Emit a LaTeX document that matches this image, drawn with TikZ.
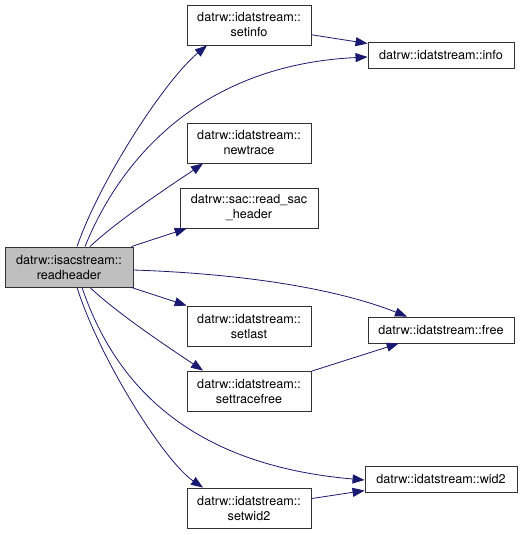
\documentclass[tikz,border=0pt]{standalone}
\usepackage{fontspec}
\setmainfont{TeX Gyre Heros}
\usetikzlibrary{arrows.meta}
\definecolor{edgeblue}{HTML}{191970}
\definecolor{boxgray}{HTML}{BFBFBF}

\begin{document}
\begin{tikzpicture}[x=1pt,y=-1pt,font=\fontsize{12.6}{15}\selectfont]
\useasboundingbox (0,0) rectangle (532,535);
\begin{scope}[every node/.style={rectangle,draw=black!80,line width=0.9pt,fill=white,
    align=center,inner sep=0pt,minimum height=40pt,minimum width=124pt}]
    \node (si)  at (249,25)  {datrw::idatstream::\\setinfo};
    \node (nt)  at (249,143) {datrw::idatstream::\\newtrace};
    \node[minimum width=138pt] (rs) at (249,208) {datrw::sac::read\_sac\\\_header};
    \node (sl)  at (249,326) {datrw::idatstream::\\setlast};
    \node (stf) at (249,391) {datrw::idatstream::\\settracefree};
    \node (sw2) at (249,508) {datrw::idatstream::\\setwid2};
    \node[minimum height=26pt,minimum width=146pt] (info) at (441,55)  {datrw::idatstream::info};
    \node[minimum height=26pt,minimum width=146pt] (free) at (441,330) {datrw::idatstream::free};
    \node[minimum height=26pt,minimum width=152pt] (wid2) at (441,479) {datrw::idatstream::wid2};
\end{scope}
\begin{scope}[every node/.style={rectangle,draw=black!80,line width=0.9pt,fill=boxgray,
    align=center,inner sep=0pt,minimum height=40pt,minimum width=128pt}]
    \node (rh) at (69,267) {datrw::isacstream::\\readheader};
\end{scope}
\begin{scope}[>={Triangle[length=12pt,width=9pt,fill=edgeblue]},
              every edge/.style={draw=edgeblue,line width=0.8pt}]
    \path [->] (rh) edge (rs);
    \path [->] (rh) edge (sl);
    \path [->] (si) edge (info);
    \path [->] (stf) edge (free);
    \path [->] (sw2) edge (wid2);
    \draw [->,draw=edgeblue,line width=0.8pt]
        ([xshift=8pt]rh.north) .. controls (100,180) and (165,80) .. ([xshift=-42pt]si.south);
    \draw [->,draw=edgeblue,line width=0.8pt]
        ([xshift=16pt]rh.north) .. controls (120,160) and (200,65) .. ([yshift=-2pt]info.west);
    \draw [->,draw=edgeblue,line width=0.8pt]
        ([xshift=21pt]rh.north) .. controls (120,218) and (185,176) .. ([xshift=-46pt]nt.south);
    \draw [->,draw=edgeblue,line width=0.8pt]
        ([yshift=-3pt]rh.east) .. controls (250,274) and (340,290) .. ([xshift=-34pt]free.north);
    \draw [->,draw=edgeblue,line width=0.8pt]
        ([xshift=21pt]rh.south) .. controls (120,316) and (180,355) .. ([xshift=-46pt]stf.north);
    \draw [->,draw=edgeblue,line width=0.8pt]
        ([xshift=13pt]rh.south) .. controls (115,385) and (190,465) .. ([yshift=-1pt]wid2.west);
    \draw [->,draw=edgeblue,line width=0.8pt]
        ([xshift=8pt]rh.south) .. controls (100,360) and (165,462) .. ([xshift=-46pt]sw2.north);
\end{scope}
\end{tikzpicture}
\end{document}
